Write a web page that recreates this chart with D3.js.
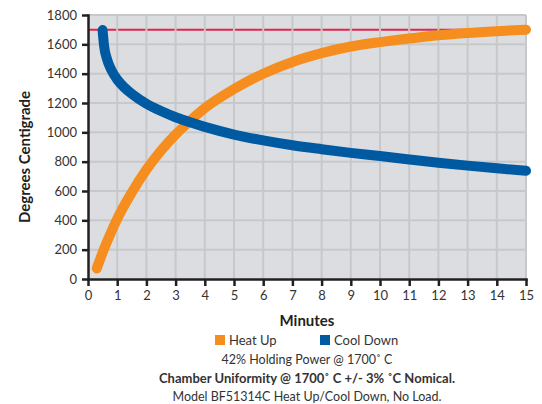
<!DOCTYPE html>
<html>
<head>
<meta charset="utf-8">
<script src="https://cdn.jsdelivr.net/npm/d3@7"></script>
<style>
  body { margin: 0; background: #fff; }
  text { font-family: Lato, "Open Sans", sans-serif; fill: #333; }
</style>
</head>
<body>
<div id="chart"></div>
<script>
// minutes / degrees
var heatMinutes = [0.3, 0.5, 0.75, 1, 1.5, 2, 2.5, 3, 3.5, 4, 5, 6, 7, 8, 9, 10, 11, 12, 13, 14, 15];
var heatDegrees = [72, 180, 300, 410, 590, 745, 875, 985, 1080, 1165, 1295, 1400, 1480, 1540, 1585, 1615, 1640, 1662, 1678, 1690, 1700];
var coolMinutes = [0.5, 0.55, 0.65, 0.8, 1, 1.25, 1.5, 2, 2.5, 3, 3.5, 4, 5, 6, 7, 8, 9, 10, 11, 12, 13, 14, 15];
var coolDegrees = [1697, 1590, 1500, 1425, 1360, 1305, 1262, 1195, 1145, 1103, 1068, 1037, 985, 945, 912, 885, 860, 838, 815, 793, 773, 755, 738];
var holdTemp = 1700;
var xTicks = d3.range(0, 16);
var yTicks = d3.range(0, 1801, 200);
var legendLabels = ["Heat Up", "Cool Down"];
var notes = ["42% Holding Power @ 1700˚ C", "Chamber Uniformity @ 1700˚ C +/- 3% ˚C Nomical.", "Model BF51314C Heat Up/Cool Down, No Load."];

var width = 542, height = 404;
var margin = {top: 15, right: 16, bottom: 125, left: 88};
var w = width - margin.left - margin.right;
var h = height - margin.top - margin.bottom;
var colors = ["#f68d1f", "#005aa2"];

var svg = d3.select("#chart").append("svg")
  .attr("width", width)
  .attr("height", height);
var g = svg.append("g")
  .attr("transform", "translate(" + margin.left + "," + margin.top + ")");

var x = d3.scaleLinear().domain([0, 15]).range([0, w]);
var y = d3.scaleLinear().domain([0, 1800]).range([h, 0]);

g.append("rect")
  .attr("width", w).attr("height", h)
  .style("fill", "#dcdde0");

g.append("line")
  .attr("x1", x(0)).attr("x2", x(15))
  .attr("y1", y(holdTemp)).attr("y2", y(holdTemp))
  .style("stroke", "#e2244f").style("stroke-width", 2);

g.selectAll(".vgrid").data(xTicks.slice(1))
  .enter().append("line")
  .attr("class", "vgrid")
  .attr("x1", function (d) { return x(d); }).attr("x2", function (d) { return x(d); })
  .attr("y1", 0).attr("y2", h)
  .style("stroke", "#c7c8ca").style("stroke-width", 2);

g.selectAll(".hgrid").data(yTicks.slice(1))
  .enter().append("line")
  .attr("class", "hgrid")
  .attr("x1", 0).attr("x2", w)
  .attr("y1", function (d) { return y(d); }).attr("y2", function (d) { return y(d); })
  .style("stroke", "#c7c8ca").style("stroke-width", 2);

var line = d3.line()
  .x(function (d) { return x(d[0]); })
  .y(function (d) { return y(d[1]); })
  .curve(d3.curveMonotoneX);

var heat = heatMinutes.map(function (m, i) { return [m, heatDegrees[i]]; });
var cool = coolMinutes.map(function (m, i) { return [m, coolDegrees[i]]; });

[heat, cool].forEach(function (series, i) {
  g.append("path")
    .datum(series)
    .attr("d", line)
    .style("fill", "none")
    .style("stroke", colors[i])
    .style("stroke-width", 10)
    .style("stroke-linecap", "round")
    .style("stroke-linejoin", "round");
});

var xAxis = g.append("g")
  .attr("transform", "translate(0," + h + ")")
  .call(d3.axisBottom(x).tickValues(xTicks).tickFormat(d3.format("d")).tickSizeInner(7).tickSizeOuter(0).tickPadding(5));
var yAxis = g.append("g")
  .call(d3.axisLeft(y).tickValues(yTicks).tickFormat(d3.format("d")).tickSizeInner(6).tickSizeOuter(0).tickPadding(5));
[xAxis, yAxis].forEach(function (a) {
  a.selectAll("path, line").style("stroke", "#231f20").style("stroke-width", 2.5);
  a.selectAll("text").style("font-size", "13px").style("fill", "#333");
  a.select(".domain").attr("stroke-linecap", "square");
});

var cx = margin.left + w / 2;

svg.append("text")
  .attr("transform", "translate(30," + (margin.top + h / 2 + 10) + ") rotate(-90)")
  .attr("text-anchor", "middle")
  .style("font-size", "15px").style("font-weight", "bold").style("fill", "#231f20")
  .text("Degrees Centigrade");

svg.append("text")
  .attr("x", cx).attr("y", 326)
  .attr("text-anchor", "middle")
  .style("font-size", "15px").style("font-weight", "bold").style("fill", "#231f20")
  .text("Minutes");

var legendX = [215, 320];
var legend = svg.selectAll(".legend").data(legendLabels)
  .enter().append("g")
  .attr("class", "legend")
  .attr("transform", function (d, i) { return "translate(" + legendX[i] + ",335)"; });
legend.append("rect")
  .attr("width", 10).attr("height", 10)
  .style("fill", function (d, i) { return colors[i]; });
legend.append("text")
  .attr("x", 14).attr("y", 10)
  .style("font-size", "13px")
  .text(function (d) { return d; });

svg.selectAll(".note").data(notes)
  .enter().append("text")
  .attr("class", "note")
  .attr("x", cx)
  .attr("y", function (d, i) { return 364 + i * 18.5; })
  .attr("text-anchor", "middle")
  .style("font-size", function (d, i) { return i === 1 ? "13px" : "12.5px"; })
  .style("font-weight", function (d, i) { return i === 1 ? "bold" : "normal"; })
  .text(function (d) { return d; });
</script>
</body>
</html>
